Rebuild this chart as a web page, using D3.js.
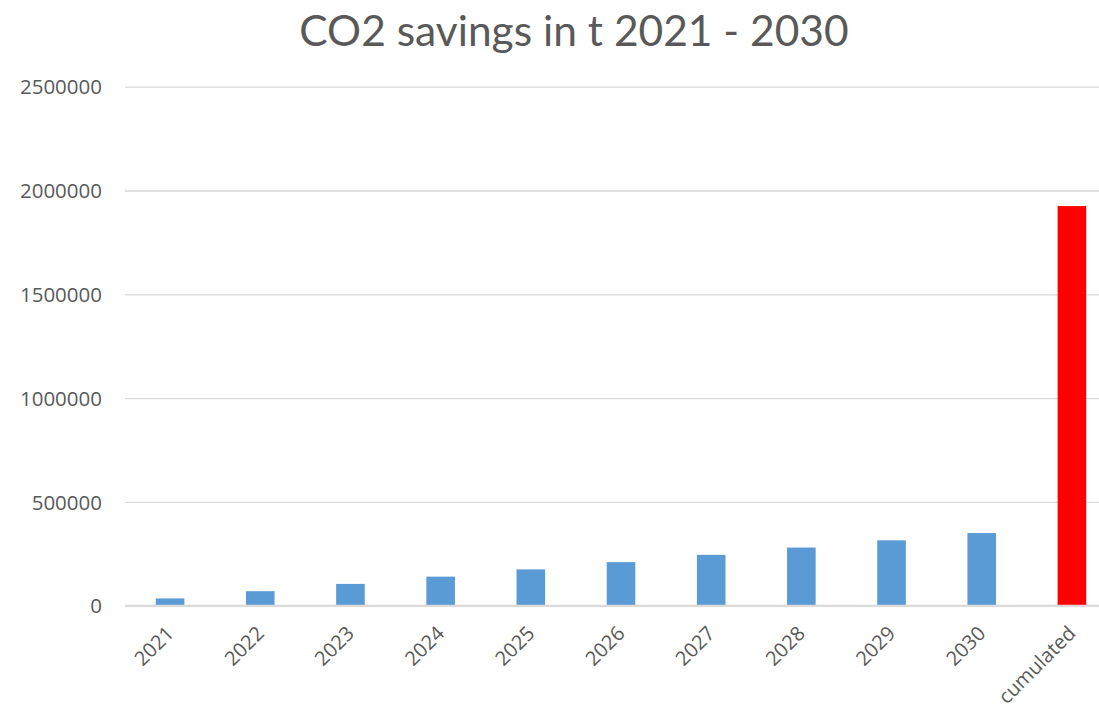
<!DOCTYPE html>
<html><head><meta charset="utf-8">
<script src="https://cdn.jsdelivr.net/npm/d3@7"></script>
<style>body{margin:0;background:#fff;overflow:hidden}</style>
</head><body>
<svg id="chart" width="1099" height="709"></svg>
<script>
const categories = ["2021","2022","2023","2024","2025","2026","2027","2028","2029","2030","cumulated"];
const values = [35000,70000,105000,140000,175000,210000,245000,280000,315000,350000,1925000];
const yTicks = [0,500000,1000000,1500000,2000000,2500000];
const title = "CO2 savings in t 2021 - 2030";

const svg = d3.select("#chart");
const x = d3.scaleBand().domain(categories).range([125,1117]).paddingInner(0.683).paddingOuter(0.3415);
const y = d3.scaleLinear().domain([0,2500000]).range([605.7,86.7]);

svg.append("text").attr("x",574).attr("y",46).attr("text-anchor","middle")
  .attr("font-family","Lato, 'Open Sans', sans-serif").attr("font-size",42.5).attr("fill","#595959").text(title);

const yAxis = d3.axisLeft(y).tickValues(yTicks).tickSize(-(1117-125)).tickFormat(d3.format("d"));
const gy = svg.append("g").attr("transform","translate(125,0)").call(yAxis);
gy.select(".domain").remove();
gy.selectAll(".tick line").attr("stroke","#d9d9d9").attr("stroke-width",1.3);
gy.selectAll(".tick text").attr("x",-23).attr("dy","0.35em").attr("fill","#595959")
  .attr("font-family","'Open Sans', sans-serif").attr("font-size",20.5);

svg.append("g").selectAll("rect").data(values).join("rect")
  .attr("x",(d,i)=>x(categories[i])).attr("width",x.bandwidth())
  .attr("y",d=>y(d)).attr("height",d=>y(0)-y(d))
  .attr("fill",(d,i)=>categories[i]==="cumulated"?"#ff0000":"#5b9bd5");

svg.append("line").attr("x1",125).attr("x2",1117).attr("y1",y(0)).attr("y2",y(0)).attr("stroke","#d9d9d9").attr("stroke-width",2);

const xAxis = d3.axisBottom(x).tickSize(0);
const gx = svg.append("g").attr("transform",`translate(0,${y(0)})`).call(xAxis);
gx.select(".domain").remove();
gx.selectAll(".tick text").attr("fill","#595959").attr("font-family","'Open Sans', sans-serif").attr("font-size",20)
  .attr("text-anchor","end").attr("x",0).attr("y",0).attr("dy","0")
  .attr("transform","translate(5,29) rotate(-45)");
</script>
</body></html>
